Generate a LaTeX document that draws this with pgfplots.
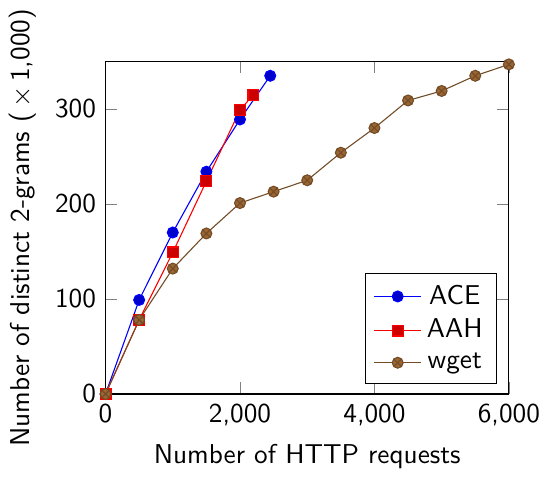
\documentclass[border=0pt]{standalone}
\usepackage{pgfplots}
\pgfplotsset{compat=1.18}
\renewcommand{\familydefault}{\sfdefault}

\begin{document}
\begin{tikzpicture}
\begin{axis}[
  scale only axis,
  width=148pt, height=122pt,
  xmin=0, xmax=6000,
  ymin=0, ymax=350,
  xtick={0,2000,4000,6000},
  ytick={0,100,200,300},
  /pgf/number format/assume math mode=true,
  xlabel={Number of HTTP requests},
  ylabel={Number of distinct 2-grams (\,$\times$\,1,000)},
  legend pos=south east,
]
\addplot coordinates {
  (0,0) (500,99) (1000,170) (1500,234) (2000,289) (2450,335)
};
\addlegendentry{ACE}
\addplot coordinates {
  (0,0) (500,78) (1000,149) (1500,224) (2000,299) (2200,315)
};
\addlegendentry{AAH}
\addplot coordinates {
  (0,0) (500,78) (1000,132) (1500,169) (2000,201) (2500,213)
  (3000,225) (3500,254) (4000,280) (4500,309) (5000,319)
  (5500,335) (6000,347)
};
\addlegendentry{wget}
\end{axis}
\end{tikzpicture}
\end{document}
